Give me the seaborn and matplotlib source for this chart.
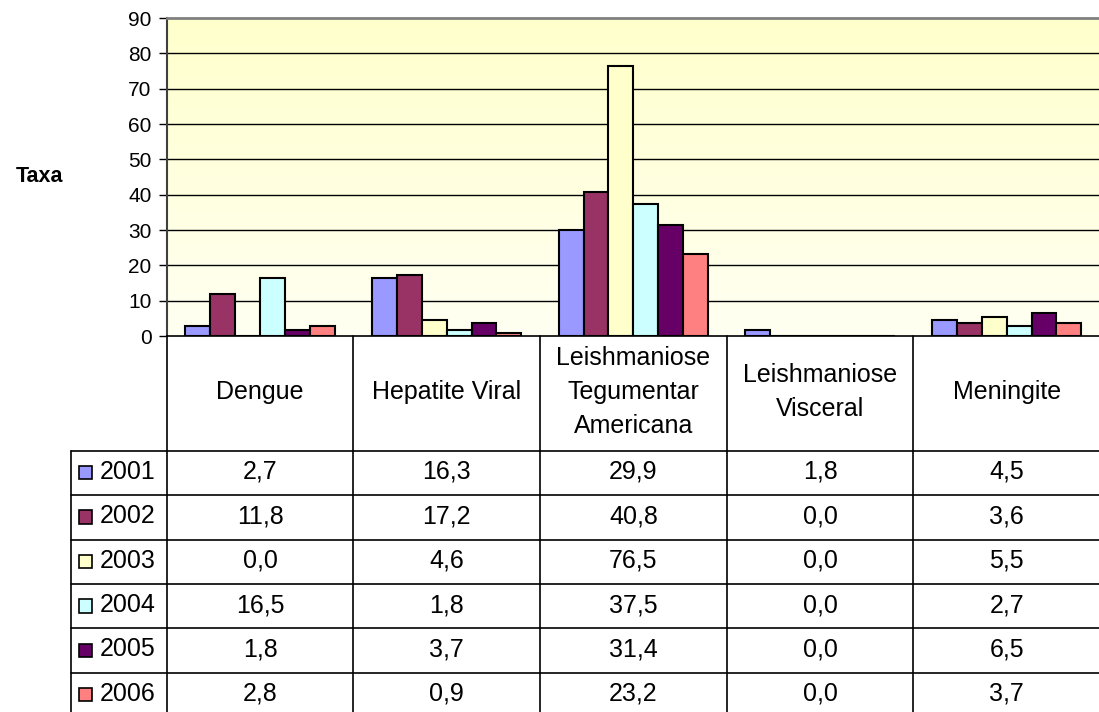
import numpy as np
import pandas as pd
import matplotlib
matplotlib.use("Agg")
import matplotlib.pyplot as plt
from matplotlib.colors import LinearSegmentedColormap
from matplotlib.patches import Rectangle
import seaborn as sns

# ---------------- data ----------------
categories = ["Dengue", "Hepatite Viral", "Leishmaniose\nTegumentar\nAmericana",
              "Leishmaniose\nVisceral", "Meningite"]
years = ["2001", "2002", "2003", "2004", "2005", "2006"]
v2001 = [2.7, 16.3, 29.9, 1.8, 4.5]
v2002 = [11.8, 17.2, 40.8, 0.0, 3.6]
v2003 = [0.0, 4.6, 76.5, 0.0, 5.5]
v2004 = [16.5, 1.8, 37.5, 0.0, 2.7]
v2005 = [1.8, 3.7, 31.4, 0.0, 6.5]
v2006 = [2.8, 0.9, 23.2, 0.0, 3.7]
series = [v2001, v2002, v2003, v2004, v2005, v2006]
colors = ["#9999FF", "#993366", "#FFFFCC", "#CCFFFF", "#660066", "#FF8080"]
yticks = [0, 10, 20, 30, 40, 50, 60, 70, 80, 90]

df = pd.DataFrame([
    {"cat": c, "year": y, "val": v}
    for y, vals in zip(years, series) for c, v in zip(categories, vals)
])

sns.set_theme(style="white")
plt.rcParams["font.family"] = ["Liberation Sans", "DejaVu Sans"]
plt.rcParams["text.color"] = "black"
plt.rcParams["ytick.color"] = "black"
plt.rcParams["ytick.labelcolor"] = "black"

W, H = 1099, 712
fig = plt.figure(figsize=(W / 100, H / 100), dpi=100)
fig.patch.set_facecolor("white")

left_px, right_px, top_px, bot_px = 166.7, 1100.0, 18.0, 336.0
ax = fig.add_axes([left_px / W, 1 - bot_px / H, (right_px - left_px) / W, (bot_px - top_px) / H])

# gradient background
cmap = LinearSegmentedColormap.from_list("bg", ["#FFFFF2", "#FFFFCC"])
grad = np.linspace(0, 1, 256).reshape(-1, 1)
ax.imshow(grad, extent=[0, 1, 0, 1], transform=ax.transAxes, cmap=cmap,
          aspect="auto", origin="lower", zorder=0)

sns.barplot(data=df, x="cat", y="val", hue="year", hue_order=years,
            palette=colors, edgecolor="black", linewidth=1.5, width=0.8,
            saturation=1, legend=False, ax=ax, zorder=3)

ax.set_xlim(-0.5, len(categories) - 0.5)
ax.set_ylim(0, 90)
ax.set_yticks(yticks)
ax.set_yticklabels([str(t) for t in yticks], fontsize=15, color="black")
ax.set_xticks([])
ax.set_xlabel("")
ax.set_ylabel("")
for t in yticks[1:-1]:
    ax.axhline(t, color="black", linewidth=1.0, zorder=1)
ax.tick_params(axis="y", direction="out", length=6, width=1, color="black", pad=5, left=True)
ax.spines["top"].set_color("#808080")
ax.spines["top"].set_linewidth(2)
ax.spines["left"].set_color("#404040")
ax.spines["left"].set_linewidth(1.5)
ax.spines["bottom"].set_color("black")
ax.spines["bottom"].set_linewidth(1.2)
ax.spines["right"].set_visible(False)

fig.text(39 / W, 1 - 176 / H, "Taxa", fontsize=15.5, fontweight="bold",
         ha="center", va="center", color="black")

# ---------------- data table ----------------
tab = fig.add_axes([0, 0, 1, 1])
tab.set_xlim(0, W)
tab.set_ylim(H, 0)
tab.axis("off")
tab.patch.set_alpha(0)

col_x = [ax.transData.transform((i - 0.5, 0))[0] for i in range(len(categories) + 1)]
header_bottom = 450.7
row_h = 44.4
row_y = [header_bottom + k * row_h for k in range(len(years) + 1)]
legend_left = 70.7
lc = "black"
lw = 1.2

# horizontal lines
for y in row_y:
    tab.plot([legend_left, col_x[-1]], [y, y], color=lc, lw=lw)
# vertical lines
for x in col_x:
    tab.plot([x, x], [bot_px, row_y[-1]], color=lc, lw=lw)
tab.plot([legend_left, legend_left], [header_bottom, row_y[-1]], color=lc, lw=lw)

fs = 18
# headers
for i, c in enumerate(categories):
    tab.text((col_x[i] + col_x[i + 1]) / 2, (bot_px + header_bottom) / 2 - 1, c,
             ha="center", va="center", fontsize=fs, linespacing=1.52, multialignment="center")
# rows
for k, (y, vals, colr) in enumerate(zip(years, series, colors)):
    yc = (row_y[k] + row_y[k + 1]) / 2 - 1
    tab.add_patch(Rectangle((78.5, yc - 6), 13.5, 13.5, facecolor=colr,
                            edgecolor="black", linewidth=1.2))
    tab.text(100, yc, y, ha="left", va="center", fontsize=fs)
    for i, v in enumerate(vals):
        tab.text((col_x[i] + col_x[i + 1]) / 2, yc, f"{v:.1f}".replace(".", ","),
                 ha="center", va="center", fontsize=fs)

fig.savefig("out.png", dpi=100)
